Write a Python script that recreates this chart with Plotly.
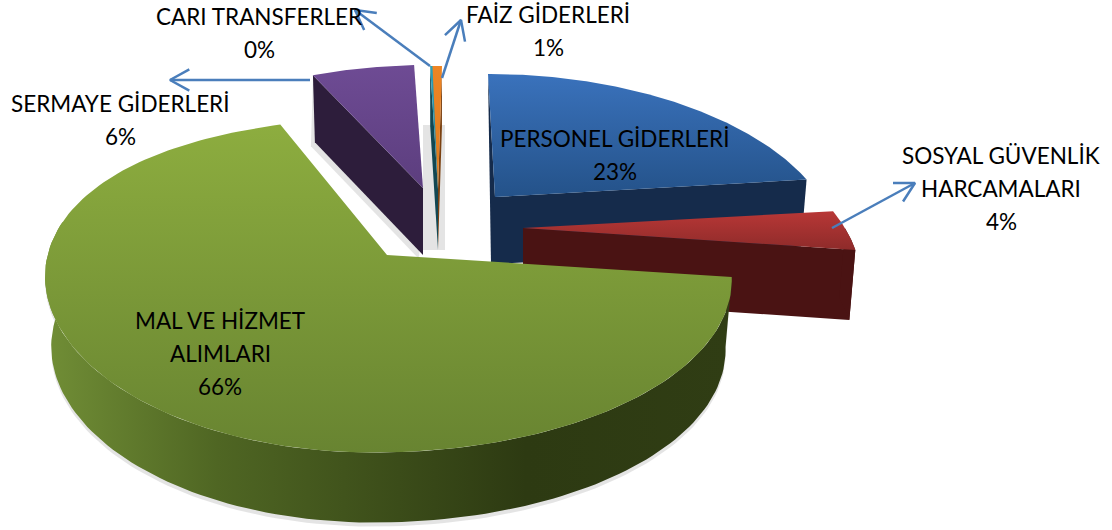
import numpy as np
import plotly.graph_objects as go

categories = ["PERSONEL GİDERLERİ", "SOSYAL GÜVENLİK<br>HARCAMALARI", "MAL VE HİZMET<br>ALIMLARI",
              "SERMAYE GİDERLERİ", "CARI TRANSFERLER", "FAİZ GİDERLERİ"]
values = [23.2, 3.9, 65.5, 6.4, 0.4, 0.6]

# drawing style per slice (same order as categories)
apex = [(495, 197), (523, 228), (387, 255), (423, 188), (438, 189), (438, 189)]
# a, b, kx, ky, skew, x shift of the rim, lift of the left rim
semi = [(325, 160, .3, .3, 7, 0, 0), (322, 160, .3, .3, 0, 0, 0), (336, 163, .2, .175, -18, 5, 22),
        (329, 160, .3, .3, -7, 0, 0), (329, 160, .3, .3, -8, 0, 0), (329, 160, .3, .3, -4, 0, 0)]
wall_h = [67, 70, 70, 67, 61, 61]
top_cols = [("#3A72BC", "#245289"), ("#B83736", "#8E2B2A"), ("#8DAD3F", "#688431"),
            ("#6E4B94", "#5C3E7E"), ("#2F9FB8", "#1F7F95"), ("#EE8524", "#DC7A1E")]
wall_cols = ["#152B4B", "#4A1313", None, "#2D1D3B", "#124752", "#7A4010"]
draw_order = [3, 4, 5, 0, 1, 2]
TAPER = .018
SHADOW = "rgba(90,90,90,.16)"

total = sum(values)
edges = np.concatenate([[0], np.cumsum(values)]) / total * 2 * np.pi


def proj(i, th):
    ax, ay = apex[i]
    a, b, kx, ky, sk, dx, lift = semi[i]
    u, v = np.sin(th), -np.cos(th)
    return (ax + dx + a * u / (1 - kx * v) + sk * v,
            ay + b * v / (1 - ky * v) - lift * np.where(u < 0, u * u, 0.0))


def under(i, x):
    return apex[i][0] + (x - apex[i][0]) * (1 - TAPER)


def poly(x, y, fill=None, grad=None):
    kw = dict(x=np.append(x, x[0]), y=np.append(y, y[0]), mode="lines", fill="toself",
              line=dict(width=0), hoverinfo="skip", showlegend=False)
    if grad:
        kw["fillgradient"] = dict(type=grad[0], colorscale=grad[1])
    else:
        kw["fillcolor"] = fill
    return go.Scatter(**kw)


fig = go.Figure()
for i in draw_order:
    t0, t1 = edges[i], edges[i + 1]
    th = np.linspace(t0, t1, 160)
    ax, ay = apex[i]
    h = wall_h[i]
    ox, oy = proj(i, th)
    if i == 2:
        vis = th <= np.deg2rad(275)
        xs, ys = ox[vis], oy[vis]
        xb = under(i, xs)
        fig.add_trace(poly(np.concatenate([xs, xb[::-1]]), np.concatenate([ys + 4, ys[::-1] + h + 4]), fill=SHADOW))
        fig.add_trace(poly(np.concatenate([xs, xb[::-1]]), np.concatenate([ys, ys[::-1] + h]),
                           grad=("horizontal", [[0, "#718E36"], [.25, "#4F6623"], [.7, "#2D3A12"], [1, "#303D14"]])))
    else:
        ex, ey = proj(i, t0 if i in (3, 4) else t1)
        bx = under(i, ex)
        if i == 4:
            # soft shadow behind the two thin slices
            fig.add_trace(poly(np.array([ax - 15, ax + 7, ax + 7, ax - 15]),
                               np.array([125, 125, ay + h, ay + h]), fill=SHADOW))
        if i in (0, 3):
            fig.add_trace(poly(np.array([ax, ex, bx - 4, ax - 4]),
                               np.array([ay + 4, ey + 4, ey + h + 4, ay + h + 4]), fill=SHADOW))
        fig.add_trace(poly(np.array([ax, ex, bx, ax]), np.array([ay, ey, ey + h, ay + h]), fill=wall_cols[i]))
        if i == 0:
            # sliver of the far cut face on the left side
            lx, ly = proj(i, t0)
            fig.add_trace(poly(np.array([lx, ax, ax, ax - 4]),
                               np.array([ly, ay, ay + h, ay + h]), fill=wall_cols[i]))
        if i == 1:
            vis = th >= np.deg2rad(90)
            xs, ys = ox[vis], oy[vis]
            xb = under(i, xs)
            fig.add_trace(poly(np.concatenate([xs, xb[::-1]]), np.concatenate([ys, ys[::-1] + h]), fill=wall_cols[i]))
    fig.add_trace(poly(np.concatenate([[ax], ox]), np.concatenate([[ay], oy]),
                       grad=("vertical", [[0, top_cols[i][1]], [1, top_cols[i][0]]])))


# leader arrows
arrow_tails = [(832, 228), (310, 80), (430, 66), (442, 78)]
arrow_tips = [(915, 183), (170, 80), (355, 10), (461, 20)]
for (x0, y0), (x1, y1) in zip(arrow_tails, arrow_tips):
    d = np.arctan2(y1 - y0, x1 - x0)
    hx = [x1 + 22 * np.cos(d + s) for s in (np.pi - .5, np.pi + .5)]
    hy = [y1 + 22 * np.sin(d + s) for s in (np.pi - .5, np.pi + .5)]
    fig.add_trace(go.Scatter(x=[x0, x1, None, hx[0], x1, hx[1]], y=[y0, y1, None, hy[0], y1, hy[1]],
                             mode="lines", line=dict(color="#4A7EBB", width=2.5), hoverinfo="skip", showlegend=False))

# label centre x and first-line centre y
label_pos = [(615, 138), (1001, 155), (220, 320), (120, 103), (259, 16), (548, 14)]
LINE_GAP = 33
for cat, val, (lx, ly) in zip(categories, values, label_pos):
    lines = cat.split("<br>") + [f"{val:.0f}%"]
    for n, line in enumerate(lines):
        fig.add_annotation(x=lx, y=ly + n * LINE_GAP, xref="x", yref="y", text=line, showarrow=False,
                           font=dict(family="Lato", size=22.5, color="#000000"), align="center")

fig.update_xaxes(range=[0, 1112], visible=False)
fig.update_yaxes(range=[530, 0], visible=False)
fig.update_layout(width=1112, height=530, margin=dict(l=0, r=0, t=0, b=0),
                  paper_bgcolor="white", plot_bgcolor="white", showlegend=False)
fig.write_html("out.html", post_script="document.body.style.margin='0';", config={"displayModeBar": False})
